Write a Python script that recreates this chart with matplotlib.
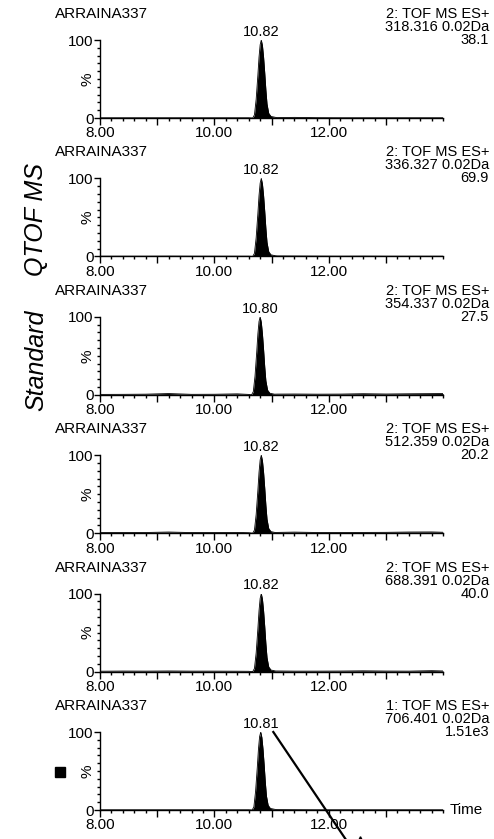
import numpy as np
import matplotlib
matplotlib.use('Agg')
import matplotlib.pyplot as plt
from matplotlib.ticker import FixedLocator, FixedFormatter, MultipleLocator

plt.rcParams['font.family'] = ['Liberation Sans', 'DejaVu Sans']

# Данные хроматограмм
sample = 'ARRAINA337'
functions = ['2: TOF MS ES+', '2: TOF MS ES+', '2: TOF MS ES+',
             '2: TOF MS ES+', '2: TOF MS ES+', '1: TOF MS ES+']
masses = ['318.316 0.02Da', '336.327 0.02Da', '354.337 0.02Da',
          '512.359 0.02Da', '688.391 0.02Da', '706.401 0.02Da']
max_int = ['38.1', '69.9', '27.5', '20.2', '40.0', '1.51e3']
apex_t = [10.82, 10.82, 10.80, 10.82, 10.82, 10.81]
apex_lbl = ['10.82', '10.82', '10.80', '10.82', '10.82', '10.81']

# форма пика (смещение от вершины, %)
peak_dt = [-0.15, -0.12, -0.09, -0.06, -0.04, -0.02, 0.0, 0.02, 0.04,
           0.06, 0.08, 0.10, 0.13, 0.17, 0.25]
peak_i = [0, 4, 24, 55, 78, 94, 100, 93, 78, 58, 36, 18, 6, 2, 0.8]

# базовая линия
base_t = [8.0, 8.4, 8.8, 9.2, 9.6, 10.0, 10.4, 10.6, 11.1, 11.4, 11.8,
          12.2, 12.6, 13.0, 13.4, 13.8, 14.0]
base_1 = [0.3, 0.3, 0.3, 0.3, 0.3, 0.3, 0.3, 0.3, 0.5, 0.8, 0.4, 0.3, 0.3, 0.3, 0.3, 0.3, 0.3]
base_2 = [0.3, 0.3, 0.3, 0.4, 0.3, 0.3, 0.3, 0.3, 0.6, 0.5, 0.4, 0.3, 0.4, 0.3, 0.3, 0.3, 0.3]
base_3 = [0.5, 0.6, 0.8, 1.6, 0.6, 0.7, 1.2, 0.5, 0.9, 1.0, 0.8, 0.9, 1.4, 1.0, 1.3, 1.5, 1.6]
base_4 = [0.8, 1.0, 0.9, 1.5, 0.8, 0.9, 1.0, 0.6, 1.0, 1.4, 0.9, 0.8, 1.0, 1.1, 1.5, 1.6, 1.2]
base_5 = [0.5, 0.7, 0.6, 0.8, 0.6, 0.6, 0.5, 0.4, 0.8, 0.6, 0.6, 0.7, 1.0, 0.7, 0.6, 1.2, 0.8]
base_6 = [0.3, 0.3, 0.3, 0.3, 0.3, 0.3, 0.3, 0.3, 0.5, 0.4, 0.3, 0.3, 0.3, 0.3, 0.3, 0.3, 0.3]
bases = [base_1, base_2, base_3, base_4, base_5, base_6]

x_major = [8, 9, 10, 11, 12, 13]
x_labels = ['8.00', '', '10.00', '', '12.00', '']

W, H = 494, 839
fig = plt.figure(figsize=(W / 100, H / 100), dpi=100)
fs = 11
fs_r = 10.5

for k in range(6):
    zero = 118 + 138.4 * k
    ax = fig.add_axes([100 / W, 1 - zero / H, 343.2 / W, 78 / H])

    t = np.array(base_t + [apex_t[k] + d for d in peak_dt])
    y = np.array(bases[k] + peak_i)
    order = np.argsort(t)
    t, y = t[order], y[order]
    ax.fill_between(t, 0, y, color='black', lw=0)
    ax.plot(t, y, color='black', lw=0.6)

    ax.set_xlim(8.0, 14.0)
    ax.set_ylim(0, 100)
    for s in ['top', 'right']:
        ax.spines[s].set_visible(False)
    ax.spines['left'].set_linewidth(1)
    ax.spines['bottom'].set_linewidth(1)

    ax.xaxis.set_major_locator(FixedLocator(x_major))
    ax.xaxis.set_major_formatter(FixedFormatter(x_labels))
    ax.xaxis.set_minor_locator(MultipleLocator(0.2))
    ax.yaxis.set_major_locator(FixedLocator([0, 100]))
    ax.yaxis.set_minor_locator(MultipleLocator(10))
    ax.tick_params(axis='x', which='major', length=5, width=1, pad=1, labelsize=fs)
    ax.tick_params(axis='x', which='minor', length=2.5, width=1)
    ax.tick_params(axis='y', which='major', length=4, width=1, pad=0.5, labelsize=fs)
    ax.tick_params(axis='y', which='minor', length=2.5, width=1)

    # подпись оси Y рядом с осью
    fig.text(88 / W, 1 - (zero - 39) / H, '%', rotation=90, ha='center', va='center',
             fontsize=fs)

    ax.text(apex_t[k], 101.5, apex_lbl[k], ha='center', va='bottom', fontsize=fs - 0.5)

    fig.text(55 / W, 1 - (zero - 104) / H, sample, ha='left', va='center', fontsize=fs)
    fig.text(489 / W, 1 - (zero - 104) / H, functions[k], ha='right', va='center', fontsize=fs_r)
    fig.text(489 / W, 1 - (zero - 91) / H, masses[k], ha='right', va='center', fontsize=fs_r)
    fig.text(489 / W, 1 - (zero - 78) / H, max_int[k], ha='right', va='center', fontsize=fs_r)

    if k == 5:
        ax.text(1.02, 0, 'Time', transform=ax.transAxes, ha='left', va='center', fontsize=fs)
        # линия-указатель от вершины
        ax.plot([11.03, 12.29], [100, -37], color='black', lw=1.6, clip_on=False)
        ax.plot([12.55], [-36], marker='^', ms=2.5, color='black', clip_on=False)

fig.text(36 / W, 1 - 220 / H, 'QTOF MS', rotation=90, ha='center', va='center',
         fontsize=18, style='italic')
fig.text(36 / W, 1 - 360 / H, 'Standard', rotation=90, ha='center', va='center',
         fontsize=18, style='italic')
fig.patches.append(plt.Rectangle((55 / W, 1 - 777 / H), 10 / W, 10 / H,
                                 transform=fig.transFigure, color='black'))

fig.savefig('out.png', dpi=100)
